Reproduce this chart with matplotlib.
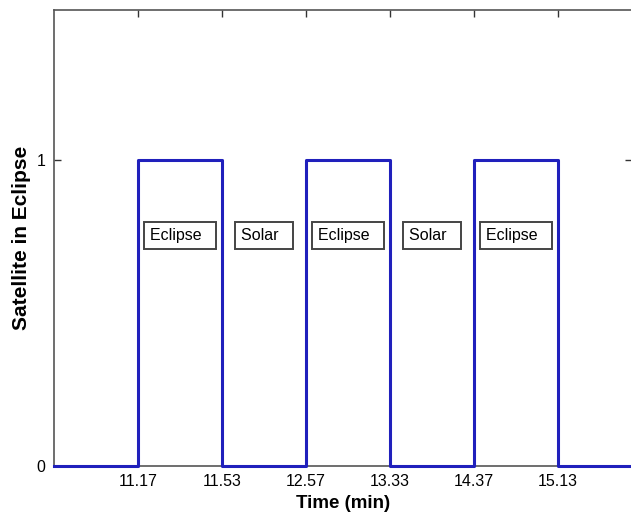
import numpy as np
import matplotlib
matplotlib.use('Agg')
import matplotlib.pyplot as plt

plt.rcParams['font.family'] = ['Liberation Sans', 'DejaVu Sans']

# eclipse switching times shown on the x axis
tick_labels = ['11.17', '11.53', '12.57', '13.33', '14.37', '15.13']
# satellite state in each interval (1 = in eclipse)
state = [0, 1, 0, 1, 0, 1, 0]
# text boxes between the switching times
phase_names = ['Eclipse', 'Solar', 'Eclipse', 'Solar', 'Eclipse']

edges = np.arange(len(state) + 1)
tick_pos = edges[1:len(tick_labels) + 1]

fig = plt.figure(figsize=(6.31, 5.16), dpi=100)
ax = fig.add_axes([54 / 631, 50 / 516, 578 / 631, 456 / 516])

line_col = '#2020bc'
ax.step(edges, state + [state[-1]], where='post', color=line_col, lw=2.2, clip_on=False, zorder=3)

for i, name in enumerate(phase_names):
    xc = (tick_pos[i] + tick_pos[i + 1]) / 2
    ax.text(xc, 0.753, name + '  ', ha='center', va='center', fontsize=11.5,
            bbox=dict(boxstyle='square,pad=0.38', fc='white', ec='#444444', lw=1.4))

ax.set_xlim(0, 578 / 84)
ax.set_ylim(0, 1.49)
ax.set_xticks(tick_pos)
ax.set_xticklabels(tick_labels, fontsize=11.5)
ax.set_yticks([0, 1])
ax.set_yticklabels(['0', '1'], fontsize=11.5)
ax.tick_params(direction='in', length=5, width=1, color='#333333', top=True, right=True, pad=6)
for s in ax.spines.values():
    s.set_color('#555555')
    s.set_linewidth(1.2)

ax.set_xlabel('Time (min)', fontsize=13.5, fontweight='bold', labelpad=4)
ax.set_ylabel('Satellite in Eclipse', fontsize=15, fontweight='bold', labelpad=4)

fig.savefig('out.png', dpi=100)
